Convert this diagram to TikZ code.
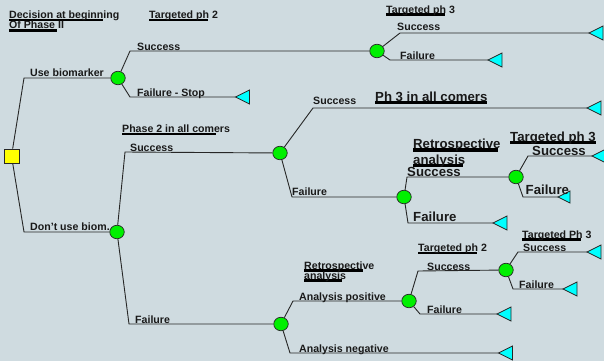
\documentclass[tikz,border=0pt]{standalone}
\usepackage{fontspec}
\setmainfont{Liberation Sans}
\usetikzlibrary{shapes.geometric}
\definecolor{bgc}{RGB}{207,219,224}
\definecolor{txt}{RGB}{25,25,25}
\definecolor{chance}{RGB}{0,240,0}
\definecolor{endc}{RGB}{0,255,255}
\definecolor{decc}{RGB}{255,255,0}
\tikzset{
  conn/.style={draw=black!85, line width=0.9pt},
  chnode/.style={ellipse, draw=black!85, line width=0.7pt, fill=chance, minimum width=14.5pt, minimum height=13.5pt, inner sep=0pt},
  decnode/.style={rectangle, draw=black!85, line width=0.7pt, fill=decc, minimum width=15pt, minimum height=14pt, inner sep=0pt},
  endtri/.style={draw=black!85, line width=0.7pt, fill=endc},
  lbl/.style={anchor=base west, inner sep=0pt, text=txt, font=\fontsize{10.6}{12}\selectfont\bfseries},
  biglbl/.style={anchor=base west, inner sep=0pt, text=txt, font=\fontsize{13.2}{15}\selectfont\bfseries},
  ubar/.style={draw=black, line width=2.8pt},
  bigubar/.style={draw=black, line width=3.2pt}
}
\begin{document}
\begin{tikzpicture}[x=1pt,y=-1pt]
\fill[bgc] (0,0) rectangle (604,361);
\useasboundingbox (0,0) rectangle (604,361);

% underline bars
\draw[ubar] (9,20) -- (103,20);
\draw[ubar] (9,30.3) -- (57,30.3);
\draw[ubar] (149,20) -- (208,20);
\draw[ubar] (386,14.5) -- (445,14.5);
\draw[ubar] (122,134) -- (216,134);
\draw[ubar] (418,253) -- (477,253);
\draw[ubar] (522,239.6) -- (581,239.6);
\draw[ubar] (304,270.6) -- (363,270.6);
\draw[ubar] (304,280.6) -- (342,280.6);
\draw[bigubar] (375,102.8) -- (487,102.8);
\draw[bigubar] (413,150) -- (498,150);
\draw[bigubar] (413,165.8) -- (463,165.8);
\draw[bigubar] (510,142.8) -- (596,142.8);

% decision and chance nodes
\node[decnode] (dec) at (11.5,156) {};
\node[chnode] (c1) at (118,78) {};
\node[chnode] (c2) at (117,232) {};
\node[chnode] (c3) at (377,51) {};
\node[chnode] (c4) at (280,153) {};
\node[chnode] (c5) at (281,324) {};
\node[chnode] (c6) at (404,197) {};
\node[chnode] (c7) at (516,177) {};
\node[chnode] (c8) at (409,301) {};
\node[chnode] (c9) at (506,270) {};

% end points (triangle tips)
\coordinate (t1) at (235.5,97);
\coordinate (t2) at (589,33);
\coordinate (t3) at (488,60);
\coordinate (t4) at (587,108);
\coordinate (t5) at (592,156);
\coordinate (t6) at (558,197);
\coordinate (t7) at (493,223);
\coordinate (t8) at (587,252);
\coordinate (t9) at (563,289);
\coordinate (t10) at (497,314);
\coordinate (t11) at (498.5,353);

% corners
\coordinate (k1) at (24,78);
\coordinate (k2) at (24,232);
\coordinate (k3) at (130,51);
\coordinate (k4) at (130,97);
\coordinate (k5) at (400,33);
\coordinate (k6) at (390,60);
\coordinate (k7) at (125,152);
\coordinate (k8) at (129,324);
\coordinate (k9) at (313,108);
\coordinate (k10) at (292,197);
\coordinate (k11) at (407,177);
\coordinate (k12) at (408,223);
\coordinate (k13) at (528,156);
\coordinate (k14) at (523,197);
\coordinate (k15) at (293,301);
\coordinate (k16) at (290,353);
\coordinate (k17) at (418,271);
\coordinate (k18) at (420,314);
\coordinate (k19) at (518,252);
\coordinate (k20) at (513,289);

% connectors
\draw[conn] (dec) -- (k1) -- (c1);
\draw[conn] (dec) -- (k2) -- (c2);
\draw[conn] (c1) -- (k3) -- (c3);
\draw[conn] (c1) -- (k4) -- (t1);
\draw[conn] (c3) -- (k5) -- (t2);
\draw[conn] (c3) -- (k6) -- (t3);
\draw[conn] (c2) -- (k7) -- (c4);
\draw[conn] (c2) -- (k8) -- (c5);
\draw[conn] (c4) -- (k9) -- (t4);
\draw[conn] (c4) -- (k10) -- (c6);
\draw[conn] (c6) -- (k11) -- (c7);
\draw[conn] (c6) -- (k12) -- (t7);
\draw[conn] (c7) -- (k13) -- (t5);
\draw[conn] (c7) -- (k14) -- (t6);
\draw[conn] (c5) -- (k15) -- (c8);
\draw[conn] (c5) -- (k16) -- (t11);
\draw[conn] (c8) -- (k17) -- (c9);
\draw[conn] (c8) -- (k18) -- (t10);
\draw[conn] (c9) -- (k19) -- (t8);
\draw[conn] (c9) -- (k20) -- (t9);

% end triangles
\foreach \t in {t1,t2,t3,t4,t5,t7,t8,t9,t10,t11}
  \draw[endtri] (\t) -- ++(14,-7) -- ++(0,14) -- cycle;
\draw[endtri] (t6) -- ++(12,-6) -- ++(0,12) -- cycle;

% labels
\node[lbl] (dt1) at (9,18.7) {Decision at beginning};
\node[lbl] (dt2) at (9,29) {Of Phase II};
\node[lbl] (tp2a) at (149,18.7) {Targeted ph 2};
\node[lbl] (ls1) at (137,50) {Success};
\node[lbl] (lub) at (30,76.5) {Use biomarker};
\node[lbl] (lfs) at (137,96) {Failure - Stop};
\node[lbl] (tp3a) at (386,13.3) {Targeted ph 3};
\node[lbl] (ls2) at (397,31) {Success};
\node[lbl] (lf2) at (400,59.5) {Failure};
\node[lbl] (ls3) at (313,104.3) {Success};
\node[lbl] (p2all) at (122,132.7) {Phase 2 in all comers};
\node[lbl] (ls4) at (130,151.5) {Success};
\node[lbl] (ldu) at (30,230.7) {Don't use biom.};
\node[lbl] (lf4) at (292,195.7) {Failure};
\node[lbl] (lf5) at (135,323.3) {Failure};
\node[lbl] (tPh3) at (522,238.3) {Targeted Ph 3};
\node[lbl] (tp2b) at (418,251.7) {Targeted ph 2};
\node[lbl] (ls8) at (427,270) {Success};
\node[lbl] (r2a) at (304,269.3) {Retrospective};
\node[lbl] (r2b) at (304,279.3) {analysis};
\node[lbl] (lap) at (299,300) {Analysis positive};
\node[lbl] (ls9) at (523,251.7) {Success};
\node[lbl] (lf9) at (519,288.3) {Failure};
\node[lbl] (lf8) at (427,313.3) {Failure};
\node[lbl] (lan) at (299,352.3) {Analysis negative};

\node[biglbl] (ph3all) at (375,101) {Ph 3 in all comers};
\node[biglbl] (r1a) at (413,148.3) {Retrospective};
\node[biglbl] (r1b) at (413,164) {analysis};
\node[biglbl] (ls6) at (407,176) {Success};
\node[biglbl] (lf6) at (413,221.7) {Failure};
\node[biglbl] (tp3b) at (510,141) {Targeted ph 3};
\node[biglbl] (ls7) at (532,155) {Success};
\node[biglbl] (lf7) at (525.5,194) {Failure};
\end{tikzpicture}
\end{document}
